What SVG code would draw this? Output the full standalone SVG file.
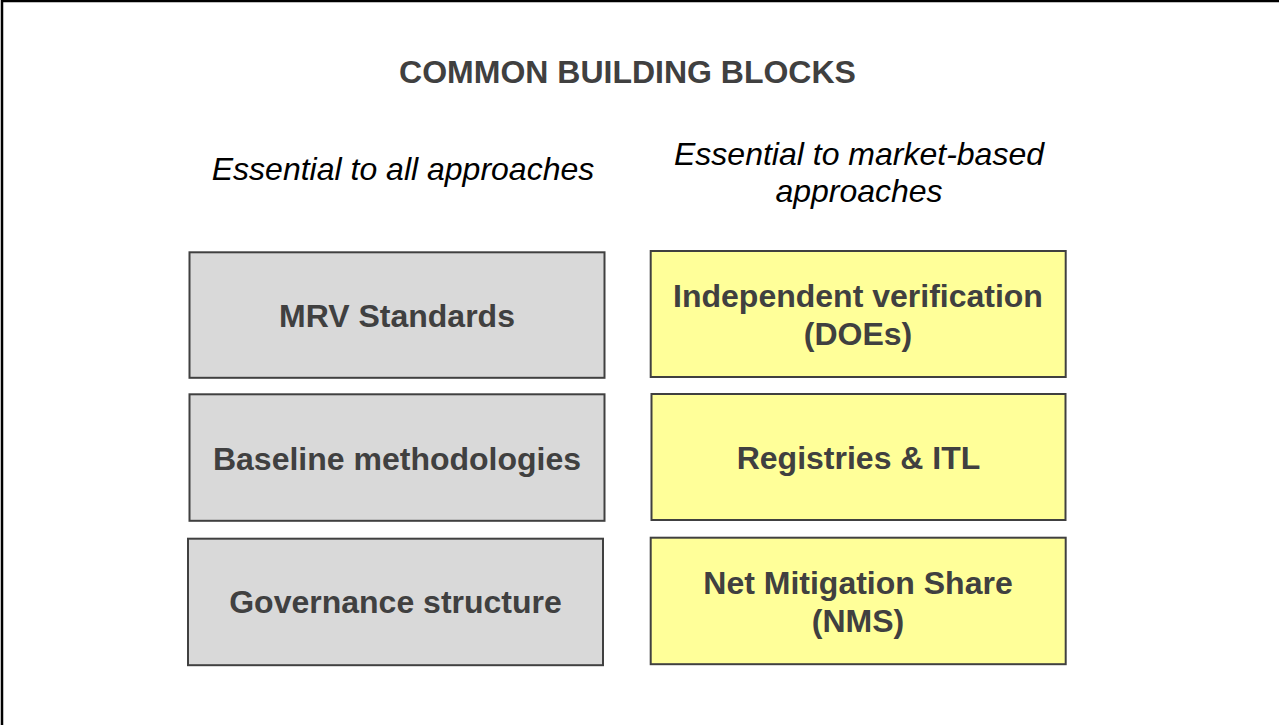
<svg xmlns="http://www.w3.org/2000/svg" width="1279" height="725" viewBox="0 0 1279 725">
<style>
.title{font-family:"Liberation Sans",Arial,sans-serif;font-weight:bold;font-size:32px;fill:#404040;text-anchor:middle}
.sub{font-family:"Liberation Sans",Arial,sans-serif;font-style:italic;font-size:32px;fill:#000;text-anchor:middle}
.lbl{font-family:"Liberation Sans",Arial,sans-serif;font-weight:bold;font-size:32px;fill:#404040;text-anchor:middle}
.gray{fill:#d9d9d9;stroke:#404040;stroke-width:2}
.yel{fill:#ffff99;stroke:#404040;stroke-width:2}
</style>
<rect width="1279" height="725" fill="#fff"/>
<path d="M2,725 V1 H1279" fill="none" stroke="#000" stroke-width="2.5"/>
<text class="title" x="627.5" y="83">COMMON BUILDING BLOCKS</text>
<text class="sub" x="403" y="180">Essential to all approaches</text>
<text class="sub" x="859" y="165">Essential to market-based</text>
<text class="sub" x="859" y="202">approaches</text>
<g id="mrv"><rect class="gray" x="189.5" y="252.3" width="415" height="125.5"/><text class="lbl" x="397" y="327">MRV Standards</text></g>
<g id="baseline"><rect class="gray" x="189.5" y="394.3" width="415" height="126.5"/><text class="lbl" x="397" y="470">Baseline methodologies</text></g>
<g id="governance"><rect class="gray" x="188" y="538.7" width="415" height="126.5"/><text class="lbl" x="395.5" y="613">Governance structure</text></g>
<g id="doe"><rect class="yel" x="650.7" y="251" width="415" height="126"/><text class="lbl" x="858" y="307">Independent verification</text><text class="lbl" x="858" y="345">(DOEs)</text></g>
<g id="registries"><rect class="yel" x="651.5" y="394" width="414" height="126"/><text class="lbl" x="858.5" y="469">Registries &amp; ITL</text></g>
<g id="nms"><rect class="yel" x="650.7" y="537.7" width="415" height="126.5"/><text class="lbl" x="858" y="594">Net Mitigation Share</text><text class="lbl" x="858" y="632">(NMS)</text></g>
<g id="connectors"></g>
</svg>
